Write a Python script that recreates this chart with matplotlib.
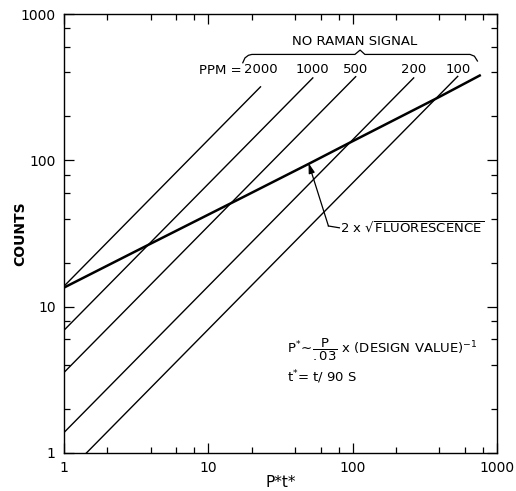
import numpy as np
import matplotlib
matplotlib.use("Agg")
import matplotlib.pyplot as plt
from matplotlib.ticker import LogLocator, FixedLocator, FuncFormatter, NullFormatter

# PPM lines (slope 1 on log-log), start and end points
ppm = [2000, 1000, 500, 200, 100]
ppm_x0 = [1.0, 1.0, 1.0, 1.0, 1.43]
ppm_y0 = [13.8, 6.9, 3.55, 1.38, 1.0]
ppm_x1 = [23, 53, 105, 265, 535]
ppm_y1 = [318, 366, 373, 366, 375]

# 2 x sqrt(fluorescence) curve
fluor_x = [1, 4, 18, 50, 94, 395, 760]
fluor_y = [13.5, 27, 57, 95, 131, 270, 380]

major_ticks = [1, 10, 100, 1000]

fig = plt.figure(figsize=(5.16, 4.91), dpi=100)
ax = fig.add_axes([0.124, 0.0774, 0.839, 0.894])

for i in range(len(ppm)):
    ax.plot([ppm_x0[i], ppm_x1[i]], [ppm_y0[i], ppm_y1[i]], color="black", lw=1.0)
    ax.text(ppm_x1[i], 415, str(ppm[i]), ha="center", va="center", fontsize=9.5)

ax.plot(fluor_x, fluor_y, color="black", lw=1.8)

ax.set_xscale("log")
ax.set_yscale("log")
ax.set_xlim(1, 1000)
ax.set_ylim(1, 1000)

fmt = FuncFormatter(lambda v, p: "%d" % round(v))
for axis in (ax.xaxis, ax.yaxis):
    axis.set_major_locator(FixedLocator(major_ticks))
    axis.set_major_formatter(fmt)
    axis.set_minor_locator(LogLocator(base=10, subs=[2, 4, 6, 8]))
    axis.set_minor_formatter(NullFormatter())

ax.tick_params(which="both", direction="in", top=True, right=True, width=0.9)
ax.tick_params(which="major", length=7, labelsize=10, pad=6)
ax.tick_params(which="minor", length=4)
for s in ax.spines.values():
    s.set_linewidth(1.0)

ax.set_xlabel("P*t*", fontsize=11, va="center")
ax.xaxis.set_label_coords(0.5, -0.068)
ax.set_ylabel("COUNTS", fontsize=10, fontweight="bold", va="center")
ax.yaxis.set_label_coords(-0.102, 0.5)

# PPM header and brace
ax.text(0.411, 0.872, "PPM =", transform=ax.transAxes, ha="right", va="center", fontsize=9.5)
ax.text(0.672, 0.938, "NO RAMAN SIGNAL", transform=ax.transAxes, ha="center", va="center", fontsize=9.5)
brace_fx = [0.413, 0.418, 0.426, 0.434, 0.672, 0.684, 0.695, 0.938, 0.948, 0.955]
brace_fy = [0.889, 0.900, 0.906, 0.908, 0.908, 0.918, 0.908, 0.908, 0.904, 0.893]
ax.plot(brace_fx, brace_fy, color="black", lw=0.9, transform=ax.transAxes, clip_on=False)

# fluorescence leader
corner = (68, 35.6)
ax.annotate("", xy=(49.5, 96), xytext=corner,
            arrowprops=dict(arrowstyle="-|>,head_length=0.6,head_width=0.18",
                            color="black", lw=0.9, shrinkA=0, shrinkB=0))
ax.plot([corner[0], 81], [corner[1], 34.6], color="black", lw=0.9)
ax.text(82, 34.6, r"2 x $\sqrt{\mathrm{FLUORESCENCE}}$", ha="left", va="center", fontsize=9.5)

# definitions
ax.text(0.515, 0.235, r"P$^{*}\!\sim\!\dfrac{\mathrm{P}}{.03}$ x (DESIGN VALUE)$^{-1}$",
        transform=ax.transAxes, ha="left", va="center", fontsize=9.5)
ax.text(0.515, 0.173, r"t$^{*}$= t/ 90 S", transform=ax.transAxes, ha="left", va="center", fontsize=9.5)

fig.savefig("out.png", dpi=100)
